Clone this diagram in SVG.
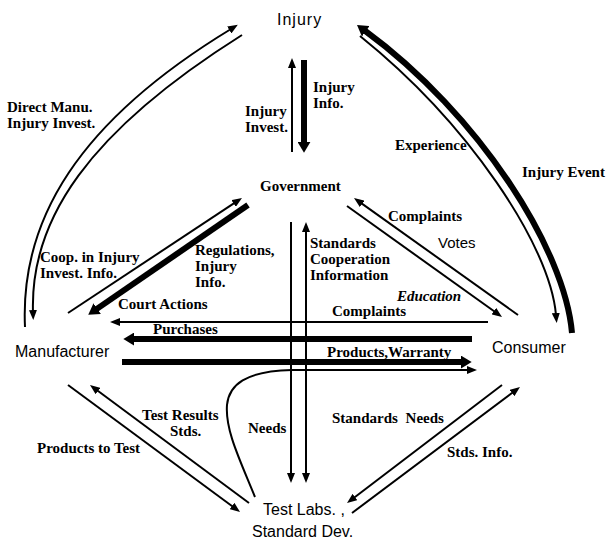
<svg xmlns="http://www.w3.org/2000/svg" width="607" height="545" viewBox="0 0 607 545">
<style>
.n{font-family:"Liberation Sans",Arial,sans-serif;font-size:16px;fill:#000}
.l{font-family:"Liberation Serif","Times New Roman",serif;font-size:15px;font-weight:bold;fill:#000}
.i{font-style:italic}
.s{font-family:"Liberation Sans",Arial,sans-serif;font-size:15px;fill:#000}
.t{fill:none;stroke:#000;stroke-width:2;marker-end:url(#ah)}
.k{fill:none;stroke:#000;stroke-width:6;marker-end:url(#ak)}
</style>
<defs>
<marker id="ah" viewBox="0 0 10 8" refX="2" refY="4" markerWidth="10" markerHeight="8" markerUnits="userSpaceOnUse" orient="auto-start-reverse"><path d="M0,0 L10,4 L0,8 z" fill="#000"/></marker>
<marker id="ak" viewBox="0 0 10 12" refX="2" refY="6" markerWidth="11" markerHeight="13" markerUnits="userSpaceOnUse" orient="auto"><path d="M0,0 L10,6 L0,12 z" fill="#000"/></marker>
</defs>
<rect width="607" height="545" fill="#fff"/>
<g id="connectors">
<line class="t" x1="292" y1="152" x2="292" y2="66"/>
<line class="k" x1="304" y1="60" x2="304" y2="144"/>
<path class="t" d="M25,327 C20,220 78,122 231,29"/>
<path class="t" d="M242,35 C88,132 30,220 33,312"/>
<path class="k" stroke-width="7" d="M572,333 C565,250 480,115 364,30"/>
<path class="t" d="M360,36 C468,123 550,245 556,315"/>
<line class="t" x1="68" y1="313" x2="235.3" y2="202.4"/>
<line class="k" stroke-width="5" x1="248" y1="205" x2="95.4" y2="309.9"/>
<line class="t" x1="518" y1="315" x2="360.5" y2="202.6"/>
<line class="t" x1="347" y1="206" x2="495.5" y2="312.3"/>
<line class="t" x1="488" y1="322" x2="118" y2="322"/>
<line class="k" x1="472" y1="339" x2="132" y2="339"/>
<line class="k" x1="122" y1="362" x2="463" y2="362"/>
<path class="t" d="M255,497 C240,460 225,430 227,405 C229,385 245,371 292,370 L469,370"/>
<line class="t" x1="291" y1="222" x2="291" y2="475"/>
<line class="t" marker-start="url(#ah)" x1="306" y1="230" x2="306" y2="475"/>
<line class="t" x1="68" y1="385" x2="233.6" y2="507.2"/>
<line class="t" x1="249" y1="503" x2="96.4" y2="389.8"/>
<line class="t" x1="502" y1="385" x2="353.4" y2="498.2"/>
<line class="t" x1="352" y1="513" x2="513.6" y2="391.8"/>
</g>
<g id="edge-labels">
<text class="l" x="7" y="112">Direct Manu.</text>
<text class="l" x="7" y="128">Injury Invest.</text>
<text class="l" x="245" y="116">Injury</text>
<text class="l" x="245" y="132">Invest.</text>
<text class="l" x="313" y="92">Injury</text>
<text class="l" x="313" y="108">Info.</text>
<text class="l" x="395" y="150">Experience</text>
<text class="l" x="522" y="177">Injury Event</text>
<text class="l" x="40" y="262">Coop. in Injury</text>
<text class="l" x="40" y="278">Invest. Info.</text>
<text class="l" x="195" y="255">Regulations,</text>
<text class="l" x="195" y="271">Injury</text>
<text class="l" x="195" y="287">Info.</text>
<text class="l" x="118" y="309">Court Actions</text>
<text class="l" x="153" y="334">Purchases</text>
<text class="l" x="310" y="248">Standards</text>
<text class="l" x="310" y="264">Cooperation</text>
<text class="l" x="310" y="280">Information</text>
<text class="l" x="388" y="221">Complaints</text>
<text class="s" x="438" y="248">Votes</text>
<text class="l i" x="397" y="301">Education</text>
<text class="l" x="332" y="316">Complaints</text>
<text class="l" x="327" y="357">Products,Warranty</text>
<text class="l" x="142" y="420">Test Results</text>
<text class="l" x="170" y="436">Stds.</text>
<text class="l" x="248" y="433">Needs</text>
<text class="l" x="37" y="453">Products to Test</text>
<text class="l" x="332" y="423" word-spacing="4">Standards Needs</text>
<text class="l" x="447" y="457">Stds. Info.</text>
</g>
<g id="node-injury"><text class="n" x="277" y="25" letter-spacing="1">Injury</text></g>
<g id="node-government"><text class="l" x="260" y="191">Government</text></g>
<g id="node-manufacturer"><text class="n" x="15" y="357">Manufacturer</text></g>
<g id="node-consumer"><text class="n" x="492" y="353">Consumer</text></g>
<g id="node-testlabs">
<text class="n" x="263" y="515" font-size="15.5">Test Labs. ,</text>
<text class="n" x="252" y="537" font-size="15">Standard Dev.</text>
</g>
</svg>
